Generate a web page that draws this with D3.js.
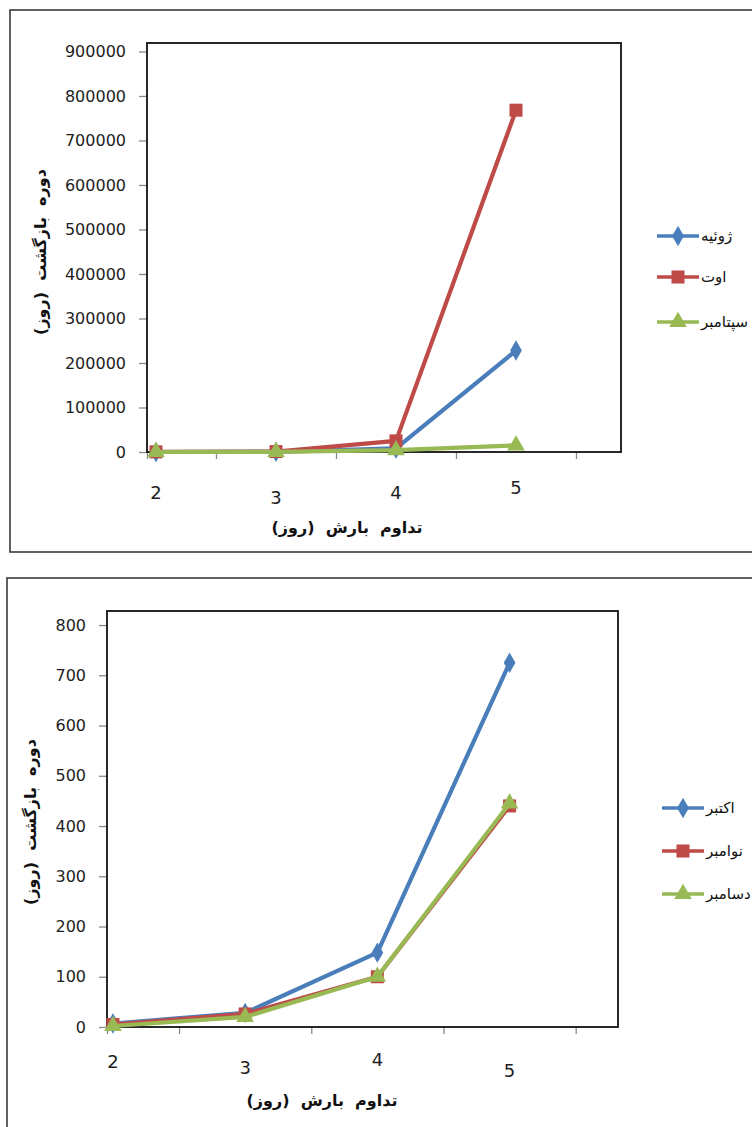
<!DOCTYPE html>
<html>
<head>
<meta charset="utf-8">
<script src="https://cdn.jsdelivr.net/npm/d3@7/dist/d3.min.js"></script>
<style>
  html, body { margin: 0; padding: 0; background: #fff; }
  svg { display: block; }
  text { font-family: "DejaVu Sans", sans-serif; }
</style>
</head>
<body>
<svg id="chart" width="752" height="1127"></svg>
<script>
// ---------- DATA ----------
const durations = [2, 3, 4, 5];
const xTickLabels = ["2", "3", "4", "5"];
const xAxisTitle = "تداوم  بارش  (روز)";
const yAxisTitle = "دوره  بازگشت  (روز)";

// top chart (summer months)
const topSeriesNames = ["ژوئیه", "اوت", "سپتامبر"];
const topJuly = [0, 300, 8000, 228000];
const topAugust = [300, 900, 25000, 768000];
const topSeptember = [0, 100, 4000, 15000];
const topYTicks = [0, 100000, 200000, 300000, 400000, 500000, 600000, 700000, 800000, 900000];
const topYTickLabels = ["0", "100000", "200000", "300000", "400000", "500000", "600000", "700000", "800000", "900000"];

// bottom chart (autumn months)
const bottomSeriesNames = ["اکتبر", "نوامبر", "دسامبر"];
const bottomOctober = [7, 28, 148, 725];
const bottomNovember = [5, 26, 100, 440];
const bottomDecember = [2, 20, 100, 445];
const bottomYTicks = [0, 100, 200, 300, 400, 500, 600, 700, 800];
const bottomYTickLabels = ["0", "100", "200", "300", "400", "500", "600", "700", "800"];

// ---------- STYLE ----------
const seriesColors = ["#4A7EBB", "#BE4B48", "#98B954"];
const seriesMarkers = ["diamond", "square", "triangle"];

const svg = d3.select("#chart");

function markerPath(type) {
  if (type === "diamond") return d3.symbol().type(d3.symbolDiamond).size(120)();
  if (type === "square") return d3.symbol().type(d3.symbolSquare).size(170)();
  return d3.symbol().type(d3.symbolTriangle).size(135)();
}

function drawChart(cfg) {
  const g = svg.append("g");

  // outer frame
  g.append("rect")
    .attr("x", cfg.frame[0]).attr("y", cfg.frame[1])
    .attr("width", cfg.frame[2]).attr("height", cfg.frame[3])
    .attr("fill", "none").attr("stroke", "#3a3a3a").attr("stroke-width", 1.6);

  const x = d3.scaleLinear().domain(cfg.xDomain).range([cfg.box.left, cfg.box.right]);
  const y = d3.scaleLinear().domain(cfg.yDomain).range([cfg.box.bottom, cfg.box.top]);

  // y axis
  const yAxis = g.append("g")
    .attr("transform", `translate(${cfg.box.left},0)`)
    .call(d3.axisLeft(y).tickValues(cfg.yTicks).tickSize(8).tickPadding(13)
      .tickFormat((d, i) => cfg.yTickLabels[i]));
  yAxis.select(".domain").remove();
  yAxis.selectAll(".tick line").attr("stroke", "#8a8a8a").attr("stroke-width", 1.3);
  yAxis.selectAll(".tick text")
    .attr("font-family", "DejaVu Sans").attr("font-size", 16).attr("fill", "#1e1e1e");

  // x axis ticks (between categories)
  const xTickVals = [cfg.xDomain[0]].concat(durations.map(d => d + 0.5));
  const xAxis = g.append("g")
    .attr("transform", `translate(0,${cfg.box.bottom})`)
    .call(d3.axisBottom(x).tickValues(xTickVals).tickSize(7).tickFormat(""));
  xAxis.select(".domain").remove();
  xAxis.selectAll(".tick line").attr("stroke", "#8a8a8a").attr("stroke-width", 1.3);

  // x tick labels at category positions
  g.selectAll(".xlab")
    .data(durations)
    .join("text")
    .attr("class", "xlab")
    .attr("x", d => x(d))
    .attr("y", (d, i) => cfg.xLabelY + cfg.xLabelOffsets[i])
    .attr("text-anchor", "middle")
    .attr("dominant-baseline", "central")
    .attr("font-size", 18)
    .attr("fill", "#1e1e1e")
    .text((d, i) => xTickLabels[i]);

  // plot box
  g.append("rect")
    .attr("x", cfg.box.left).attr("y", cfg.box.top)
    .attr("width", cfg.box.right - cfg.box.left)
    .attr("height", cfg.box.bottom - cfg.box.top)
    .attr("fill", "none").attr("stroke", "#111").attr("stroke-width", 1.8);

  // series
  const line = d3.line().x((d, i) => x(durations[i])).y(d => y(d));
  cfg.series.forEach((vals, si) => {
    g.append("path")
      .datum(vals)
      .attr("d", line)
      .attr("fill", "none")
      .attr("stroke", seriesColors[si])
      .attr("stroke-width", 4.2)
      .attr("stroke-linejoin", "round");
    g.selectAll(".m" + si)
      .data(vals)
      .join("path")
      .attr("class", "m" + si)
      .attr("d", markerPath(seriesMarkers[si]))
      .attr("transform", (d, i) => `translate(${x(durations[i])},${y(d)})`)
      .attr("fill", seriesColors[si]);
  });

  // axis titles
  g.append("text")
    .attr("x", cfg.xTitle[0]).attr("y", cfg.xTitle[1])
    .attr("text-anchor", "middle").attr("dominant-baseline", "central")
    .attr("font-size", 16).attr("font-weight", "bold").attr("fill", "#111")
    .style("white-space", "pre")
    .text(xAxisTitle);
  g.append("text")
    .attr("transform", `translate(${cfg.yTitle[0]},${cfg.yTitle[1]}) rotate(-90)`)
    .attr("text-anchor", "middle").attr("dominant-baseline", "central")
    .attr("font-size", 16).attr("font-weight", "bold").attr("fill", "#111")
    .style("white-space", "pre")
    .text(yAxisTitle);

  // legend
  const leg = g.selectAll(".leg")
    .data(cfg.names)
    .join("g")
    .attr("class", "leg")
    .attr("transform", (d, i) => `translate(0,${cfg.legendY[i]})`);
  leg.append("line")
    .attr("x1", cfg.legendX).attr("x2", cfg.legendX + 42)
    .attr("stroke", (d, i) => seriesColors[i]).attr("stroke-width", 3.5);
  leg.append("path")
    .attr("d", (d, i) => markerPath(seriesMarkers[i]))
    .attr("transform", `translate(${cfg.legendX + 21},0)`)
    .attr("fill", (d, i) => seriesColors[i]);
  leg.append("text")
    .attr("x", cfg.legendX + 44)
    .attr("dominant-baseline", "central")
    .attr("font-size", 15).attr("fill", "#111")
    .text(d => d);
}

drawChart({
  frame: [10, 10, 760, 542],
  box: { left: 147, right: 621, top: 43, bottom: 452 },
  xDomain: [1.925, 5.875],
  yDomain: [0, 919000],
  yTicks: topYTicks,
  yTickLabels: topYTickLabels,
  xLabelY: 492,
  xLabelOffsets: [0, 5, 0, -5],
  series: [topJuly, topAugust, topSeptember],
  names: topSeriesNames,
  xTitle: [347, 527],
  yTitle: [40, 252],
  legendX: 657,
  legendY: [236, 277, 322]
});

drawChart({
  frame: [7, 578, 760, 570],
  box: { left: 107, right: 618, top: 611, bottom: 1027 },
  xDomain: [1.955, 5.82],
  yDomain: [0, 828],
  yTicks: bottomYTicks,
  yTickLabels: bottomYTickLabels,
  xLabelY: 1061,
  xLabelOffsets: [0, 6, -2, 9],
  series: [bottomOctober, bottomNovember, bottomDecember],
  names: bottomSeriesNames,
  xTitle: [322, 1100],
  yTitle: [30, 822],
  legendX: 662,
  legendY: [808, 851, 894]
});
</script>
</body>
</html>
